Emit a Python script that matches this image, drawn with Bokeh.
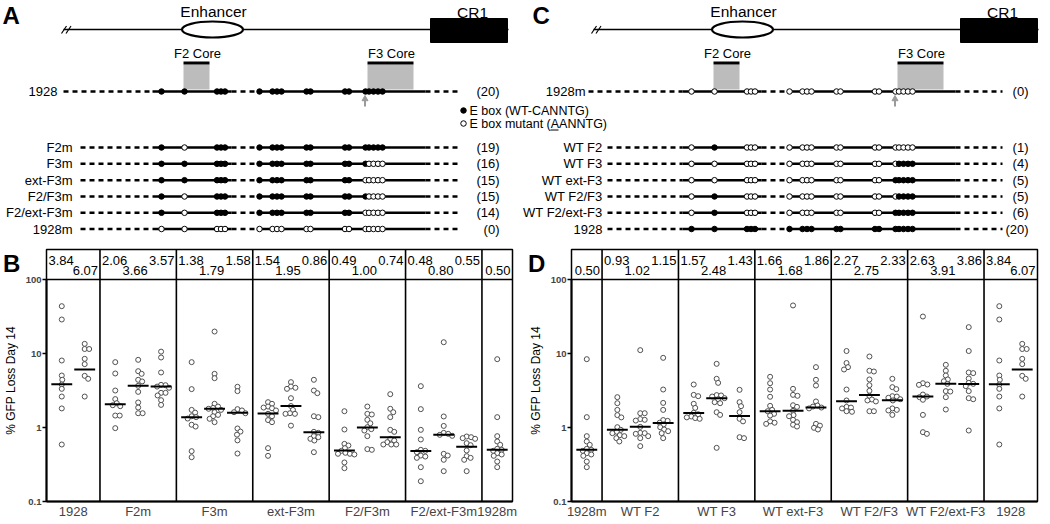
import math
import numpy as np
from bokeh.plotting import figure
from bokeh.layouts import column, row
from bokeh.models import Range1d, FixedTicker, CustomJSTickFormatter, Span
from bokeh.embed import file_html
from bokeh.resources import INLINE
from bokeh.core.properties import value

FONT = "Liberation Sans"

# ------------------------------------------------------------------ data
A_rows = ["1928", "F2m", "F3m", "ext-F3m", "F2/F3m", "F2/ext-F3m", "1928m"]
A_counts = ["(20)", "(19)", "(16)", "(15)", "(15)", "(14)", "(0)"]
A_mutated = [[], ["F2"], ["F3"], ["ext", "F3"], ["F2", "F3"], ["F2", "ext", "F3"],
             ["a", "F2", "b", "c", "d", "e", "f", "ext", "F3"]]

C_rows = ["1928m", "WT F2", "WT F3", "WT ext-F3", "WT F2/F3", "WT F2/ext-F3", "1928"]
C_counts = ["(0)", "(1)", "(4)", "(5)", "(5)", "(6)", "(20)"]
C_wildtype = [[], ["F2"], ["F3"], ["ext", "F3"], ["F2", "F3"], ["F2", "ext", "F3"],
              ["a", "F2", "b", "c", "d", "e", "f", "ext", "F3"]]

# E-box sites along the enhancer (diagram units) and the element each belongs to
ebox_pos = [161, 184, 216.5, 220.5, 224.5, 259, 272, 276.5, 281, 306, 310, 344.5, 348.5, 365, 368.5, 373, 377.5, 382]
ebox_elem = ["a", "F2", "b", "b", "b", "c", "d", "d", "d", "e", "e", "f", "f", "ext", "F3", "F3", "F3", "F3"]

# B panel
B_groups = ["1928", "F2m", "F3m", "ext-F3m", "F2/F3m", "F2/ext-F3m", "1928m"]
B_medians = [[3.84, 6.07], [2.06, 3.66, 3.57], [1.38, 1.79, 1.58], [1.54, 1.95, 0.86],
             [0.49, 1.00, 0.74], [0.48, 0.80, 0.55], [0.50]]
v1928 = [[43.6, 28.8, 8.04, 5.04, 4.41, 3.81, 3.33, 2.62, 1.81, 0.589],
         [13.5, 11.5, 11.5, 8.47, 7.18, 4.99, 4.55, 2.62]]
vF2m = [[7.64, 5.37, 3.16, 2.42, 2.13, 2.0, 1.94, 1.45, 1.45, 0.98],
        [8.21, 5.77, 5.31, 4.41, 4.19, 3.66, 3.03, 2.18, 1.86, 1.56, 1.56],
        [10.6, 8.83, 5.54, 3.77, 3.73, 3.57, 3.44, 2.94, 2.94, 2.71, 2.34, 2.02]]
vF3m = [[7.64, 3.30, 1.73, 1.59, 1.42, 1.38, 1.32, 1.09, 1.03, 0.479, 0.397],
        [19.8, 5.31, 4.64, 2.09, 1.92, 1.84, 1.79, 1.73, 1.61, 1.48, 1.42, 1.31, 1.18],
        [3.55, 3.10, 1.77, 1.70, 1.61, 1.56, 0.97, 0.88, 0.80, 0.67, 0.445]]
vextF3m = [[2.20, 2.09, 1.92, 1.86, 1.82, 1.70, 1.53, 1.42, 1.26, 1.18, 0.526, 0.414],
           [4.10, 3.58, 3.44, 3.33, 2.49, 1.95, 1.73, 1.56, 1.53, 1.53, 1.06],
           [4.41, 3.16, 2.91, 1.42, 1.38, 0.874, 0.847, 0.764, 0.740, 0.703, 0.667, 0.464]]
vF2F3m = [[1.66, 0.94, 0.601, 0.571, 0.526, 0.484, 0.455, 0.441, 0.441, 0.432, 0.337, 0.282],
          [1.92, 1.53, 1.50, 1.27, 1.14, 1.01, 0.95, 0.91, 0.764, 0.510, 0.499],
          [2.82, 1.79, 1.61, 1.38, 0.93, 0.874, 0.703, 0.667, 0.634, 0.589, 0.589, 0.589]]
vF2extF3m = [[3.62, 1.77, 0.93, 0.689, 0.499, 0.484, 0.464, 0.418, 0.405, 0.389, 0.291, 0.188],
             [14.2, 1.41, 1.05, 0.847, 0.821, 0.796, 0.772, 0.441, 0.418, 0.366, 0.257],
             [0.756, 0.740, 0.718, 0.703, 0.614, 0.577, 0.489, 0.410, 0.389, 0.366, 0.257]]
v1928m = [[8.38, 1.38, 0.764, 0.647, 0.583, 0.515, 0.499, 0.484, 0.450, 0.432, 0.414, 0.347, 0.291]]
B_values = [v1928, vF2m, vF3m, vextF3m, vF2F3m, vF2extF3m, v1928m]

# D panel
D_groups = ["1928m", "WT F2", "WT F3", "WT ext-F3", "WT F2/F3", "WT F2/ext-F3", "1928"]
D_medians = [[0.50], [0.93, 1.02, 1.15], [1.57, 2.48, 1.43], [1.66, 1.68, 1.86],
             [2.27, 2.75, 2.33], [2.63, 3.91, 3.86], [3.84, 6.07]]
vWTF2 = [[2.57, 2.13, 1.73, 1.47, 1.37, 1.01, 0.93, 0.874, 0.838, 0.788, 0.764, 0.718, 0.647],
         [11.1, 1.56, 1.56, 1.30, 1.27, 1.24, 1.02, 0.847, 0.838, 0.821, 0.764, 0.718, 0.560],
         [8.74, 3.26, 2.15, 1.73, 1.26, 1.23, 1.16, 1.10, 1.01, 0.94, 0.892, 0.838, 0.718]]
vWTF3 = [[3.81, 2.76, 2.65, 2.09, 1.84, 1.58, 1.51, 1.41, 1.37, 1.34, 1.31],
         [7.25, 4.55, 4.01, 2.74, 2.71, 2.62, 2.49, 2.41, 2.20, 2.13, 1.61, 1.48, 0.531],
         [3.23, 2.20, 1.94, 1.61, 1.31, 1.21, 0.740, 0.718]]
vWTextF3 = [[4.84, 3.97, 3.26, 2.60, 1.96, 1.73, 1.66, 1.53, 1.45, 1.21, 1.16, 1.12],
            [44.6, 3.33, 2.76, 2.68, 2.00, 1.90, 1.68, 1.47, 1.42, 1.27, 1.18, 1.09, 1.03],
            [6.54, 4.41, 3.69, 2.25, 1.98, 1.92, 1.86, 1.81, 1.12, 1.06, 0.99, 0.94]]
vWTF2F3 = [[10.8, 7.43, 6.54, 6.08, 3.26, 2.32, 1.90, 1.86, 1.81, 1.66, 1.63],
           [9.11, 5.84, 5.71, 4.46, 3.73, 3.13, 2.68, 2.39, 2.32, 2.25, 1.66, 1.66],
           [4.55, 3.51, 3.30, 2.65, 2.62, 2.52, 2.41, 2.32, 1.81, 1.73, 1.70, 1.48]]
vWTF2extF3 = [[31.6, 3.97, 3.81, 3.77, 2.79, 2.62, 2.57, 2.37, 1.48, 0.865, 0.821],
              [7.03, 5.84, 5.04, 4.46, 4.22, 3.89, 3.10, 3.06, 2.57, 1.75],
              [22.7, 10.8, 5.54, 5.43, 4.59, 4.01, 3.89, 3.62, 3.10, 2.49, 2.41, 0.91]]
D_values = [v1928m, vWTF2, vWTF3, vWTextF3, vWTF2F3, vWTF2extF3, v1928]

Y_TICKS = [0.1, 1, 10, 100]
Y_LABEL = "% GFP Loss Day 14"

# ------------------------------------------------------------------ top diagrams
TOP_H = 245
BOT_H = 524 - TOP_H
top = figure(width=1050, height=TOP_H, x_range=Range1d(0, 1050), y_range=Range1d(TOP_H, 0),
             x_axis_type=None, y_axis_type=None, output_backend="svg",
             toolbar_location=None, min_border=0)
top.grid.visible = False
top.outline_line_color = None


def txt(p, x, y, t, size="13px", align="left", baseline="middle", style="normal", angle=0.0):
    p.text(x=[x], y=[y], text=[t], text_font=value(FONT), text_font_size=size,
           text_align=align, text_baseline=baseline, text_font_style=style, angle=angle)


def draw_diagram(p, dx, letter, names, counts, states, state_is_wt,
                 top_lab_end, low_lab_end, top_dash0, low_dash0, dash_end, count_x):
    txt(p, 2 + dx, 1, letter, size="24px", baseline="top", style="bold")
    # backbone
    p.segment(x0=[63 + dx], y0=[29], x1=[508 + dx], y1=[29], line_color="black", line_width=1.6)
    p.segment(x0=[61 + dx, 65.5 + dx], y0=[33, 33], x1=[66 + dx, 70.5 + dx], y1=[25.5, 25.5],
              line_color="black", line_width=1.2)
    p.ellipse(x=[212 + dx], y=[29], width=61, height=16, fill_color="white",
              line_color="black", line_width=2.2)
    p.quad(left=[430 + dx], right=[507 + dx], top=[18], bottom=[42], fill_color="black",
           line_color="black")
    txt(p, 213 + dx, 11, "Enhancer", size="15.5px", align="center")
    txt(p, 472 + dx, 12, "CR1", size="15.5px", align="center")
    # core regions
    for (x0, x1, lab) in [(183, 209, "F2 Core"), (367, 413, "F3 Core")]:
        p.quad(left=[x0 + dx], right=[x1 + dx], top=[64], bottom=[89], fill_color="#bcbcbc",
               line_color=None)
        p.segment(x0=[x0 + dx], y0=[62.5], x1=[x1 + dx], y1=[62.5], line_color="black", line_width=3)
        txt(p, (x0 + x1) / 2 + dx + 1, 53, lab, size="13px", align="center")
    # rows
    row_y = [91, 147, 163.3, 179.7, 196, 212.3, 228.5]
    for i, (nm, ct, st) in enumerate(zip(names, counts, states)):
        y = row_y[i]
        lab_end = top_lab_end if i == 0 else low_lab_end
        d0 = top_dash0 if i == 0 else low_dash0
        txt(p, lab_end + dx, y, nm, size="13px", align="right")
        txt(p, count_x + dx, y, ct, size="13px", align="right")
        p.segment(x0=[d0 + dx, 231 + dx, 425 + dx], y0=[y] * 3, x1=[152 + dx, 257 + dx, dash_end + dx],
                  y1=[y] * 3, line_color="black", line_width=2.4, line_dash="5 4")
        p.segment(x0=[152 + dx, 257 + dx], y0=[y] * 2, x1=[231 + dx, 425 + dx], y1=[y] * 2,
                  line_color="black", line_width=2.4)
        xs, fills = [], []
        for pos, el in zip(ebox_pos, ebox_elem):
            listed = el in st
            wt = listed if state_is_wt else not listed
            xs.append(pos + dx)
            fills.append("black" if wt else "white")
        p.scatter(x=xs, y=[y] * len(xs), size=5.5, marker="circle", fill_color=fills,
                  line_color="black", line_width=1)
    # arrow under the top row
    p.segment(x0=[364.5 + dx], y0=[99], x1=[364.5 + dx], y1=[106], line_color="#9a9a9a", line_width=2)
    p.scatter(x=[364.5 + dx], y=[98.5], marker="triangle", size=6, fill_color="#9a9a9a",
              line_color="#9a9a9a")


draw_diagram(top, 0, "A", A_rows, A_counts, A_mutated, False, 57, 72, 63, 80, 460, 499)
draw_diagram(top, 530, "C", C_rows, C_counts, C_wildtype, True, 55, 72, 58, 77, 472, 498)

# legend for the E boxes
top.scatter(x=[463, 463], y=[110, 123], size=5.5, marker="circle", fill_color=["black", "white"],
            line_color="black", line_width=1)
txt(top, 469, 110.5, "E box (WT-CANNTG)", size="12.5px")
txt(top, 469, 123.5, "E box mutant (AANNTG)", size="12.5px")
top.segment(x0=[550], y0=[129.5], x1=[558], y1=[129.5], line_color="black", line_width=1)


# ------------------------------------------------------------------ scatter panels
def swarm_offsets(vals, ppu, ppd, d=4.3):
    order = sorted(range(len(vals)), key=lambda i: -vals[i])
    cands = [0.0]
    for k in range(1, 80):
        cands += [k * 0.5, -k * 0.5]
    placed, offs = [], [0.0] * len(vals)
    for i in order:
        y = math.log10(vals[i]) * ppd
        chosen = 0.0
        for c in cands:
            if all((c - px) ** 2 + (y - py) ** 2 >= d * d for px, py in placed):
                chosen = c
                break
        placed.append((chosen, y))
        offs[i] = chosen / ppu
    return offs


def side(letter, width):
    """Narrow strip with the panel letter and the rotated y-axis title."""
    s = figure(width=width, height=BOT_H, x_range=Range1d(0, width), y_range=Range1d(BOT_H, 0),
               x_axis_type=None, y_axis_type=None, output_backend="svg",
               toolbar_location=None, min_border=0)
    s.grid.visible = False
    s.outline_line_color = None
    txt(s, 2.5, 1, letter, size="24px", baseline="top", style="bold")
    txt(s, 10.5, 145, Y_LABEL, size="12px", align="center", angle=math.pi / 2)
    return s


def panel(names, meds, vals, width, bl, br):
    H, bt, bb = BOT_H, 4, 23
    ncol = [len(m) for m in meds]
    widths = [0.3 + 0.9 * k for k in ncol]
    starts = list(np.cumsum([0.0] + widths[:-1]))
    total = float(sum(widths))
    fh, fw = H - bt - bb, width - bl - br
    top_log = 2 + 30.0 / 74.0
    ppd = fh / (top_log + 1)
    ppu = fw / total
    p = figure(width=width, height=H, x_range=Range1d(0, total), y_range=Range1d(0.1, 10 ** top_log),
               y_axis_type="log", output_backend="svg", toolbar_location=None,
               min_border_left=bl, min_border_right=br, min_border_top=bt, min_border_bottom=bb)
    p.grid.visible = False
    p.outline_line_color = "black"
    p.outline_line_width = 1.5
    # separators and header line
    for s in starts[1:]:
        p.add_layout(Span(location=s, dimension="height", line_color="black", line_width=1.6))
    p.add_layout(Span(location=100, dimension="width", line_color="black", line_width=1.6))
    # points
    xs, ys, mx0, mx1, my = [], [], [], [], []
    for s, cols, m in zip(starts, vals, meds):
        for j, cv in enumerate(cols):
            c = s + 0.6 + 0.9 * j
            offs = swarm_offsets(cv, ppu, ppd)
            xs += [c + o for o in offs]
            ys += list(cv)
            mx0.append(c - 0.41)
            mx1.append(c + 0.41)
            my.append(m[j])
    p.scatter(x=xs, y=ys, size=5, marker="circle", fill_color="white", line_color="#505050",
              line_width=1)
    p.segment(x0=mx0, y0=my, x1=mx1, y1=my, line_color="black", line_width=2)
    # header values
    r1, r2 = 10 ** (2 + 19.5 / 74), 10 ** (2 + 9.0 / 74)
    for s, w, m in zip(starts, widths, meds):
        if len(m) == 1:
            items = [(s + w, r2, m[0], "right", -2)]
        elif len(m) == 2:
            items = [(s, r1, m[0], "left", 2), (s + w, r2, m[1], "right", -2)]
        else:
            items = [(s, r1, m[0], "left", 2), (s + w, r1, m[2], "right", -2),
                     (s + w / 2, r2, m[1], "center", -3)]
        for (x, y, v, al, off) in items:
            p.text(x=[x], y=[y], text=["%.2f" % v], text_font=value(FONT), text_font_size="13px",
                   text_align=al, text_baseline="middle", x_offset=off)
    # axes
    centers = [s + w / 2 for s, w in zip(starts, widths)]
    p.xaxis.ticker = FixedTicker(ticks=centers)
    p.xaxis.formatter = CustomJSTickFormatter(args=dict(c=centers, n=names), code="""
        let b = 0, bd = 1e9;
        for (let i = 0; i < c.length; i++) { const d = Math.abs(c[i] - tick); if (d < bd) { bd = d; b = i; } }
        return n[b];""")
    p.xaxis.major_tick_line_color = None
    p.xaxis.major_tick_out = 0
    p.xaxis.major_tick_in = 0
    p.xaxis.minor_tick_line_color = None
    p.xaxis.minor_tick_out = 0
    p.xaxis.axis_line_width = 2
    p.xaxis.major_label_standoff = 2
    p.xaxis.major_label_text_font = FONT
    p.xaxis.major_label_text_font_size = "13px"
    p.yaxis.ticker = FixedTicker(ticks=Y_TICKS)
    p.yaxis.formatter = CustomJSTickFormatter(code="return tick >= 1 ? tick.toFixed(0) : tick.toFixed(1);")
    p.yaxis.bounds = (0.1, 100)
    p.yaxis.axis_line_width = 2
    p.yaxis.major_tick_out = 4
    p.yaxis.major_tick_in = 0
    p.yaxis.major_tick_line_width = 1.5
    p.yaxis.minor_tick_line_color = None
    p.yaxis.minor_tick_out = 0
    p.yaxis.major_label_standoff = 1
    p.yaxis.major_label_text_font = FONT
    p.yaxis.major_label_text_font_style = "bold"
    p.yaxis.major_label_text_font_size = "9.5px"
    return p


SIDE_W = 22
sB = side("B", SIDE_W)
pB = panel(B_groups, B_medians, B_values, 525 - SIDE_W, 43 - SIDE_W, 13)
sD = side("D", SIDE_W)
pD = panel(D_groups, D_medians, D_values, 525 - SIDE_W, 42 - SIDE_W, 13)

layout = column(top, row(sB, pB, sD, pD, spacing=0), spacing=0)
open("out.html", "w").write(file_html(layout, INLINE))
